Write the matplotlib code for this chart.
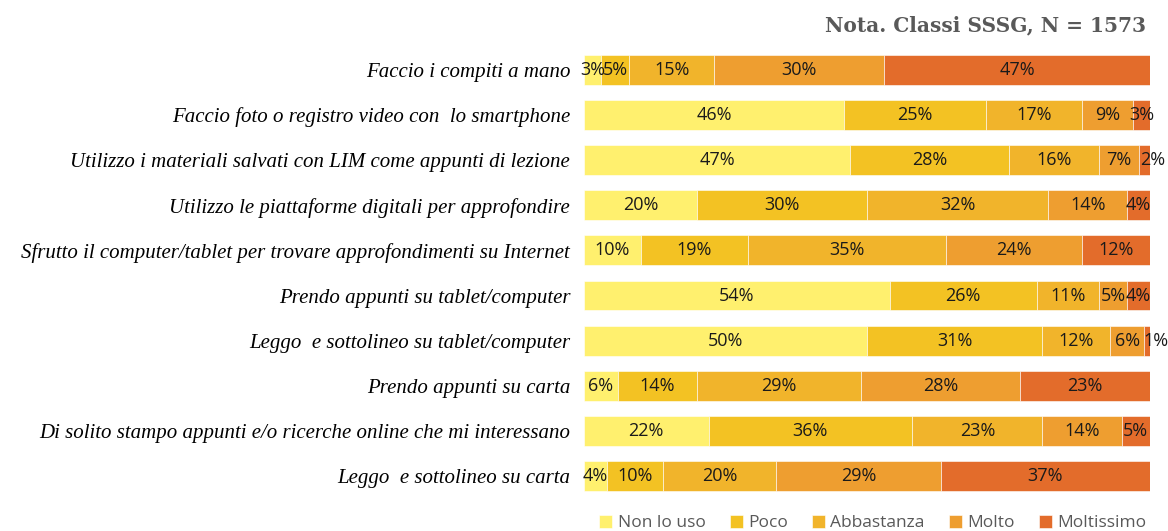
import matplotlib.pyplot as plt
import numpy as np

# categories (top to bottom) and percentages per response class
labels = [
    'Faccio i compiti a mano',
    'Faccio foto o registro video con  lo smartphone',
    'Utilizzo i materiali salvati con LIM come appunti di lezione',
    'Utilizzo le piattaforme digitali per approfondire',
    'Sfrutto il computer/tablet per trovare approfondimenti su Internet',
    'Prendo appunti su tablet/computer',
    'Leggo  e sottolineo su tablet/computer',
    'Prendo appunti su carta',
    'Di solito stampo appunti e/o ricerche online che mi interessano',
    'Leggo  e sottolineo su carta',
]
series = ['Non lo uso', 'Poco', 'Abbastanza', 'Molto', 'Moltissimo']
non_lo_uso = [3, 46, 47, 20, 10, 54, 50, 6, 22, 4]
poco = [5, 25, 28, 30, 19, 26, 31, 14, 36, 10]
abbastanza = [15, 17, 16, 32, 35, 11, 12, 29, 23, 20]
molto = [30, 9, 7, 14, 24, 5, 6, 28, 14, 29]
moltissimo = [47, 3, 2, 4, 12, 4, 1, 23, 5, 37]
colors = ['#fff06e', '#f3c223', '#f1b42b', '#ee9e30', '#e36c2b']

data = np.array([non_lo_uso, poco, abbastanza, molto, moltissimo], dtype=float)

fig = plt.figure(figsize=(11.68, 5.31), dpi=100)
ax = fig.add_axes([0.5, 0.061, 0.4846, 0.85])

y = np.arange(len(labels))
left = np.zeros(len(labels))
for k, (vals, name, col) in enumerate(zip(data, series, colors)):
    ax.barh(y, vals, left=left, height=0.66, color=col, label=name,
            edgecolor='white', linewidth=0.4)
    for yi, (l, v) in enumerate(zip(left, vals)):
        xc = l + v / 2
        if k == len(series) - 1 and v <= 2:
            xc += 1.5  # tiny last segment: label spills past the bar end
        ax.text(xc, yi, f'{int(v)}%', ha='center', va='center',
                fontsize=13, family='Open Sans', color='#1a1a1a')
    left += vals

ax.set_xlim(0, 100)
ax.set_ylim(len(labels) - 0.5, -0.5)
ax.set_yticks(y)
ax.set_yticklabels(labels, family='Liberation Serif', style='italic', fontsize=15)
ax.tick_params(axis='y', length=0, pad=10)
ax.set_xticks([])
for s in ax.spines.values():
    s.set_visible(False)

fig.text(0.981, 0.952, 'Nota. Classi SSSG, N = 1573', ha='right', va='center',
         family='DejaVu Serif', weight='bold', fontsize=14.5, color='#595959')

leg = fig.legend(loc='lower right', bbox_to_anchor=(0.995, -0.03), ncol=5, frameon=False,
                 handlelength=0.75, handleheight=0.75, handletextpad=0.3,
                 columnspacing=1.4, prop={'family': 'Open Sans', 'size': 12.5})
for t in leg.get_texts():
    t.set_color('#595959')

fig.savefig('out.png', dpi=100)
